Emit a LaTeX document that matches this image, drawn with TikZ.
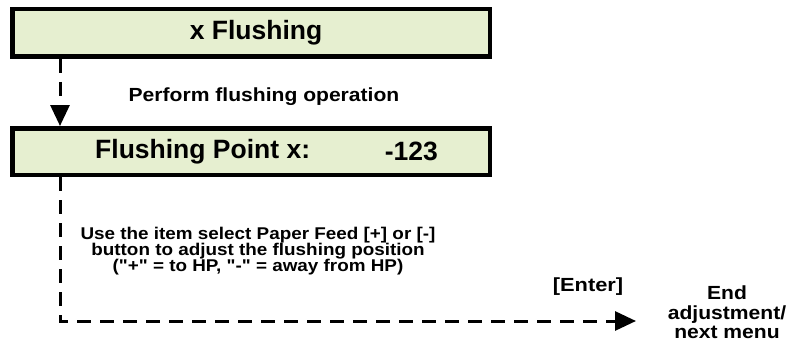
\documentclass[tikz,border=0pt]{standalone}
\usepackage{fontspec}
\setmainfont{Liberation Sans}
\newfontfamily\widefont[FakeStretch=1.11]{Liberation Sans}
\newfontfamily\widerfont[FakeStretch=1.15]{Liberation Sans}
\usetikzlibrary{arrows.meta,calc}
\definecolor{boxfill}{RGB}{230,239,208}
\newcommand{\dq}{\symbol{34}}
\begin{document}
\begin{tikzpicture}[x=1pt,y=1pt,
  menubox/.style={draw=black,fill=boxfill,line width=4.5pt,minimum width=477.5pt,inner sep=0pt},
  boxtext/.style={font=\bfseries\fontsize{26.5}{30}\selectfont,inner sep=0pt},
  flowline/.style={line width=3pt,dash pattern=on 14pt off 9pt,-{Triangle[length=21pt,width=19pt]}},
  lbl/.style={align=center,inner sep=0pt}
]
\useasboundingbox (0,0) rectangle (790,-345);
\node[menubox,minimum height=47.5pt] (b1) at (251,-33) {};
\node[boxtext] (t1) at (256,-33) {x Flushing};
\node[menubox,minimum height=46.5pt] (b2) at (251,-151.5) {};
\node[boxtext,anchor=west] (t2) at (95,-151.5) {Flushing Point x:};
\node[boxtext,anchor=east] (t3) at (438,-151.5) {-123};
\coordinate (lx) at (60,0);
\coordinate (tip) at (636,-321);
\draw[flowline] (b1.south -| lx) -- (b2.north -| lx);
\node[lbl,font=\widefont\bfseries\fontsize{19}{22}\selectfont] (p) at (264,-97) {Perform flushing operation};
\draw[flowline] (b2.south -| lx) |- (tip);
\node[lbl,font=\widefont\bfseries\fontsize{17}{16}\selectfont] (u) at (258,-251) {Use the item select Paper Feed [+] or [-]\\button to adjust the flushing position\\(\dq+\dq{} = to HP, \dq-\dq{} = away from HP)};
\node[lbl,font=\widerfont\bfseries\fontsize{19}{22}\selectfont] (e) at (588,-287) {[Enter]};
\node[lbl,font=\widefont\bfseries\fontsize{19}{19.5}\selectfont] (n) at (727,-312.5) {End\\adjustment/\\next menu};
\end{tikzpicture}
\end{document}
